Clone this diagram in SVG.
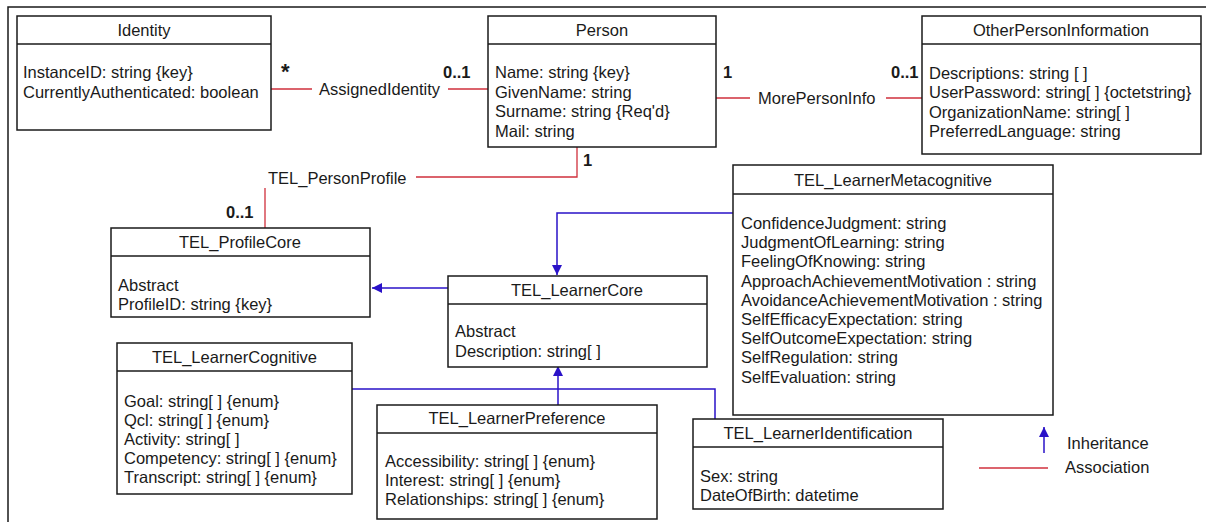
<svg xmlns="http://www.w3.org/2000/svg" width="1206" height="522" viewBox="0 0 1206 522">
<defs>
<style>
text{font-family:"Liberation Sans",Arial,sans-serif;font-size:16.5px;fill:#1a1a1a}
.t{text-anchor:middle}
.b{font-weight:bold}
.box{fill:#fff;stroke:#1a1a1a;stroke-width:1.5}
.div{stroke:#1a1a1a;stroke-width:1.5}
.assoc{fill:none;stroke:#d0303c;stroke-width:1.3}
.inh{fill:none;stroke:#2a12c8;stroke-width:1.5}
</style>
<marker id="tri" viewBox="0 0 10 10" refX="10" refY="5" markerWidth="10" markerHeight="10" markerUnits="userSpaceOnUse" orient="auto">
<path d="M0 0L10 5L0 10z" fill="#2a12c8"/>
</marker>
</defs>
<rect x="8" y="7" width="1220" height="540" fill="#fff" stroke="#1a1a1a" stroke-width="1.5"/>

<g id="connectors">
<path class="assoc" d="M271 89H312M448 89H488"/>
<path class="assoc" d="M716 98H750M886 98H922"/>
<path class="assoc" d="M577 147V177H416M265 188V228"/>
<path class="inh" d="M448 288H372" marker-end="url(#tri)"/>
<path class="inh" d="M733 213H557V275" marker-end="url(#tri)"/>
<path class="inh" d="M558 405V366" marker-end="url(#tri)"/>
<path class="inh" d="M352 389H715V419"/>
<text x="319" y="95">AssignedIdentity</text>
<text x="758" y="104">MorePersonInfo</text>
<text x="268" y="184">TEL_PersonProfile</text>
<text x="281" y="79" class="b" style="font-size:22px">*</text>
<text x="443" y="78" class="b">0..1</text>
<text x="723" y="78" class="b">1</text>
<text x="891" y="78" class="b">0..1</text>
<text x="583" y="166" class="b">1</text>
<text x="226" y="218" class="b">0..1</text>
</g>

<g id="Identity">
<rect class="box" x="17" y="16" width="254" height="114"/>
<line class="div" x1="17" y1="44" x2="271" y2="44"/>
<text class="t" x="144" y="36">Identity</text>
<text x="23" y="78">InstanceID: string {key}</text>
<text x="23" y="97.5">CurrentlyAuthenticated: boolean</text>
</g>

<g id="Person">
<rect class="box" x="488" y="16" width="228" height="131"/>
<line class="div" x1="488" y1="44" x2="716" y2="44"/>
<text class="t" x="602" y="36">Person</text>
<text x="495" y="78">Name: string {key}</text>
<text x="495" y="97.5">GivenName: string</text>
<text x="495" y="117">Surname: string {Req'd}</text>
<text x="495" y="136.5">Mail: string</text>
</g>

<g id="OtherPersonInformation">
<rect class="box" x="922" y="16" width="279" height="138"/>
<line class="div" x1="922" y1="44" x2="1201" y2="44"/>
<text class="t" x="1061" y="36">OtherPersonInformation</text>
<text x="929" y="78.5">Descriptions: string [ ]</text>
<text x="929" y="98">UserPassword: string[ ] {octetstring}</text>
<text x="929" y="117.5">OrganizationName: string[ ]</text>
<text x="929" y="137">PreferredLanguage: string</text>
</g>

<g id="TEL_ProfileCore">
<rect class="box" x="111" y="228" width="259" height="89"/>
<line class="div" x1="111" y1="256" x2="370" y2="256"/>
<text class="t" x="240" y="248">TEL_ProfileCore</text>
<text x="118" y="291">Abstract</text>
<text x="118" y="310">ProfileID: string {key}</text>
</g>

<g id="TEL_LearnerCore">
<rect class="box" x="448" y="276" width="259" height="91"/>
<line class="div" x1="448" y1="304" x2="707" y2="304"/>
<text class="t" x="577" y="296">TEL_LearnerCore</text>
<text x="455" y="337">Abstract</text>
<text x="455" y="357">Description: string[ ]</text>
</g>

<g id="TEL_LearnerMetacognitive">
<rect class="box" x="733" y="165" width="320" height="250"/>
<line class="div" x1="733" y1="194" x2="1053" y2="194"/>
<text class="t" x="893" y="186">TEL_LearnerMetacognitive</text>
<text x="741" y="229">ConfidenceJudgment: string</text>
<text x="741" y="248.2">JudgmentOfLearning: string</text>
<text x="741" y="267.4">FeelingOfKnowing: string</text>
<text x="741" y="286.6">ApproachAchievementMotivation : string</text>
<text x="741" y="305.8">AvoidanceAchievementMotivation : string</text>
<text x="741" y="325">SelfEfficacyExpectation: string</text>
<text x="741" y="344.2">SelfOutcomeExpectation: string</text>
<text x="741" y="363.4">SelfRegulation: string</text>
<text x="741" y="382.6">SelfEvaluation: string</text>
</g>

<g id="TEL_LearnerCognitive">
<rect class="box" x="117" y="343" width="235" height="151"/>
<line class="div" x1="117" y1="371" x2="352" y2="371"/>
<text class="t" x="234.5" y="363">TEL_LearnerCognitive</text>
<text x="124" y="407">Goal: string[ ] {enum}</text>
<text x="124" y="426">Qcl: string[ ] {enum}</text>
<text x="124" y="445">Activity: string[ ]</text>
<text x="124" y="464">Competency: string[ ] {enum}</text>
<text x="124" y="483">Transcript: string[ ] {enum}</text>
</g>

<g id="TEL_LearnerPreference">
<rect class="box" x="377" y="405" width="280" height="114"/>
<line class="div" x1="377" y1="433" x2="657" y2="433"/>
<text class="t" x="517" y="424">TEL_LearnerPreference</text>
<text x="385" y="467">Accessibility: string[ ] {enum}</text>
<text x="385" y="486">Interest: string[ ] {enum}</text>
<text x="385" y="505">Relationships: string[ ] {enum}</text>
</g>

<g id="TEL_LearnerIdentification">
<rect class="box" x="693" y="419" width="250" height="90"/>
<line class="div" x1="693" y1="447" x2="943" y2="447"/>
<text class="t" x="818" y="439">TEL_LearnerIdentification</text>
<text x="700" y="482">Sex: string</text>
<text x="700" y="501">DateOfBirth: datetime</text>
</g>

<g id="legend">
<path class="inh" d="M1044 453V427" marker-end="url(#tri)"/>
<text x="1067" y="449">Inheritance</text>
<path class="assoc" d="M979 468H1048"/>
<text x="1065" y="473">Association</text>
</g>
</svg>
